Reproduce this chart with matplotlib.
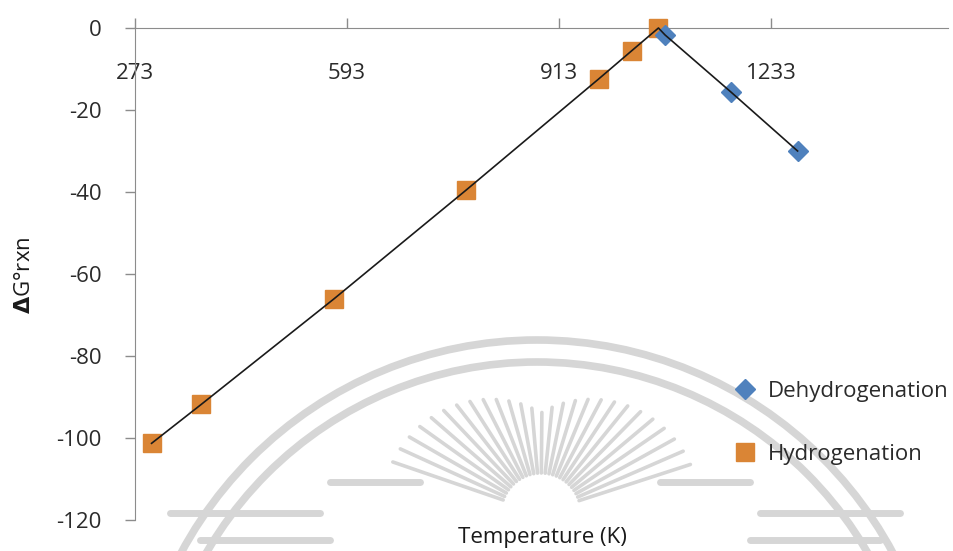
import numpy as np
import matplotlib
matplotlib.use("Agg")
import matplotlib.pyplot as plt
from matplotlib.patches import Arc

# Standard Gibbs energy of reaction vs temperature
hyd_temp = [298, 373, 573, 773, 973, 1023, 1063]
hyd_dg = [-101.3, -91.8, -66.1, -39.5, -12.4, -5.5, 0.0]

dehyd_temp = [1073, 1173, 1273]
dehyd_dg = [-1.7, -15.7, -30.0]

x_ticks = [273, 593, 913, 1233]
y_ticks = [-120, -100, -80, -60, -40, -20, 0]

plt.rcParams["font.family"] = ["Open Sans", "DejaVu Sans"]
plt.rcParams["axes.unicode_minus"] = False
plt.rcParams["mathtext.fontset"] = "custom"
plt.rcParams["mathtext.bf"] = "DejaVu Sans:bold"
plt.rcParams["mathtext.rm"] = "Open Sans"

W, H = 954, 551
fig = plt.figure(figsize=(W / 100, H / 100), dpi=100)

# faint emblem in the background
bg = fig.add_axes([0, 0, 1, 1], zorder=0)
bg.set_xlim(0, W)
bg.set_ylim(H, 0)
bg.axis("off")
wm = "#d6d6d6"
cx, cy = 537, 744
for r in (404, 382):
    bg.add_patch(Arc((cx, cy), 2 * r, 2 * r, theta1=180, theta2=360,
                     color=wm, lw=5.5))
rc = (541, 513)
for ang in np.arange(18, 163, 5.5):
    t = np.deg2rad(ang)
    r0 = 40
    r1 = 100 + 60 * abs(np.cos(t))
    bg.plot([rc[0] + r0 * np.cos(t), rc[0] + r1 * np.cos(t)],
            [rc[1] - r0 * np.sin(t), rc[1] - r1 * np.sin(t)],
            color=wm, lw=2.6, solid_capstyle="round")
for y0, x0, x1 in [(482, 330, 420), (482, 660, 750), (513, 170, 320),
                   (513, 760, 900), (540, 200, 330), (540, 750, 880)]:
    bg.plot([x0, x1], [y0, y0], color=wm, lw=5, solid_capstyle="round")

# main chart
ax = fig.add_axes([135 / W, 1 - 520 / H, (948 - 135) / W, (520 - 28) / H],
                  zorder=1)
ax.set_facecolor("none")

orange = "#DA8535"
blue = "#4F81BD"

ax.plot(hyd_temp, hyd_dg, "s", color=orange, ms=13, mec=orange,
        label="Hydrogenation", clip_on=False, zorder=3)
ax.plot(dehyd_temp, dehyd_dg, "D", color=blue, ms=10, mec=blue,
        label="Dehydrogenation", clip_on=False, zorder=3)

all_t = np.array(hyd_temp + dehyd_temp)
all_g = np.array(hyd_dg + dehyd_dg)
order = np.argsort(all_t)
ax.plot(all_t[order], all_g[order], color="#1a1a1a", lw=1.2, zorder=4,
        clip_on=False)

ax.set_xlim(273, 1500)
ax.set_ylim(-120, 0)
ax.set_xticks(x_ticks)
ax.set_yticks(y_ticks)

spine_c = "#8c8c8c"
for s in ("top", "right"):
    ax.spines[s].set_visible(False)
ax.spines["bottom"].set_position(("data", 0))
ax.spines["bottom"].set_color(spine_c)
ax.spines["left"].set_color(spine_c)

ax.tick_params(axis="x", direction="in", length=7, width=1, color=spine_c,
               pad=25, labelsize=16, labelcolor="#2b2b2b")
ax.tick_params(axis="y", direction="out", length=7, width=1, color=spine_c,
               pad=17, labelsize=16, labelcolor="#2b2b2b")

fig.text(542 / W, 1 - 537 / H, "Temperature (K)", ha="center", va="center",
         fontsize=16, color="#1a1a1a")
fig.text(25 / W, 1 - 275 / H, r"$\mathbf{\Delta}$G°rxn", ha="center",
         va="center", rotation=90, fontsize=16, color="#1a1a1a")

handles, labels = ax.get_legend_handles_labels()
leg = ax.legend(handles[::-1], labels[::-1], loc="center left",
                bbox_to_anchor=(723 / W, 1 - 423 / H),
                bbox_transform=fig.transFigure, frameon=False,
                fontsize=16, handlelength=1.0, handletextpad=0.5,
                labelspacing=1.9, borderpad=0)
for t in leg.get_texts():
    t.set_color("#2b2b2b")

fig.savefig("out.png", dpi=100)
